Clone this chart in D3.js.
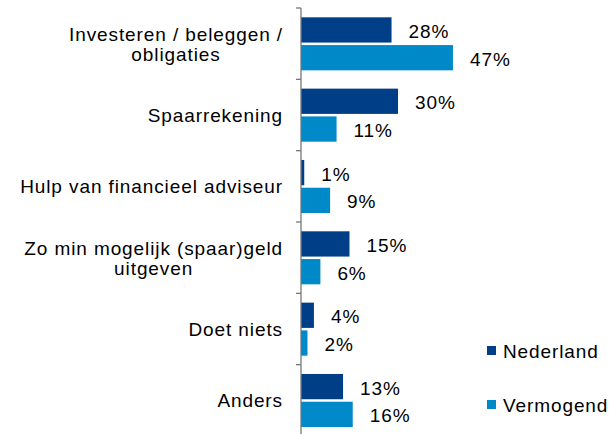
<!DOCTYPE html>
<html>
<head>
<meta charset="utf-8">
<script src="https://cdn.jsdelivr.net/npm/d3@7"></script>
<style>
  body { margin: 0; background: #fff; }
  text { font-family: "Liberation Sans", Arial, sans-serif; font-size: 19px; fill: #000; letter-spacing: 0.9px; }
</style>
</head>
<body>
<script>
// categories, each one split in lines as in the picture
const categories = [
  ['Investeren / beleggen /', 'obligaties'],
  ['Spaarrekening'],
  ['Hulp van financieel adviseur'],
  ['Zo min mogelijk (spaar)geld', 'uitgeven'],
  ['Doet niets'],
  ['Anders']
];
const series = ['Nederland', 'Vermogend'];
const nederland = [28, 30, 1, 15, 4, 13];
const vermogend = [47, 11, 9, 6, 2, 16];
const colors = ['#003f87', '#0089c9'];

const width = 612, height = 434;
const axisX = 301;

const svg = d3.select('body')
              .append('svg')
              .attr('width', width)
              .attr('height', height);

const keys = categories.map((c, i) => i);

const yscale = d3.scaleBand()
                .domain(keys)
                .range([8, 436]);

const inner = d3.scaleBand()
                .domain(series)
                .range([9.3, yscale.bandwidth() - 9])
                .paddingInner(0.09);

const xscale = d3.scaleLinear()
                .domain([0, 60])
                .range([axisX, axisX + 194]);

// rows: one per category and series
const rows = [];
keys.forEach(i => {
  rows.push({cat: i, s: series[0], v: nederland[i], c: colors[0]});
  rows.push({cat: i, s: series[1], v: vermogend[i], c: colors[1]});
});

svg.selectAll('rect.bar')
  .data(rows)
  .enter().append('rect')
  .attr('class', 'bar')
  .attr('x', xscale(0))
  .attr('y', d => yscale(d.cat) + inner(d.s))
  .attr('width', d => xscale(d.v) - xscale(0))
  .attr('height', inner.bandwidth())
  .attr('fill', d => d.c);

svg.selectAll('text.val')
  .data(rows)
  .enter().append('text')
  .attr('class', 'val')
  .attr('x', d => xscale(d.v) + 17)
  .attr('y', d => yscale(d.cat) + inner(d.s) + inner.bandwidth() / 2 + 8)
  .text(d => d.v + '%');

// vertical axis with ticks between categories
const bounds = keys.map(i => yscale(i)).concat([yscale.range()[1]]);
svg.append('line')
  .attr('x1', axisX).attr('x2', axisX)
  .attr('y1', bounds[0]).attr('y2', height)
  .attr('stroke', '#777').attr('stroke-width', 1.3);
svg.selectAll('line.tick')
  .data(bounds)
  .enter().append('line')
  .attr('class', 'tick')
  .attr('x1', axisX - 5).attr('x2', axisX)
  .attr('y1', d => d).attr('y2', d => d)
  .attr('stroke', '#777').attr('stroke-width', 1.3);

// category labels: lines centred on each other, block right aligned
const lineH = 20;
keys.forEach(i => {
  const lines = categories[i];
  const cy = yscale(i) + yscale.bandwidth() / 2;
  const g = svg.append('g');
  const texts = lines.map((l, j) => g.append('text')
    .attr('y', cy + 7 + (j - (lines.length - 1) / 2) * lineH)
    .attr('text-anchor', 'middle')
    .text(l));
  const widths = texts.map(t => t.node().getComputedTextLength());
  const maxW = d3.max(widths);
  texts.forEach(t => t.attr('x', 283 - maxW / 2));
});

// legend
const legendY = [351, 405];
series.forEach((s, i) => {
  svg.append('rect')
    .attr('x', 487).attr('y', legendY[i] - 5)
    .attr('width', 9).attr('height', 9)
    .attr('fill', colors[i]);
  svg.append('text')
    .attr('x', 503).attr('y', legendY[i] + 7)
    .text(s);
});
</script>
</body>
</html>
